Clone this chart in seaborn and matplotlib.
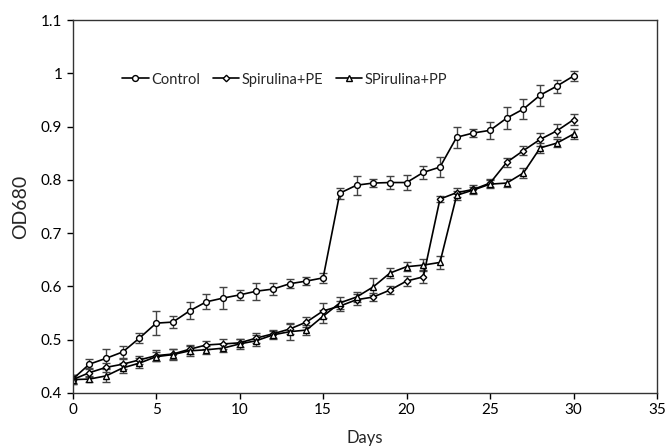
import matplotlib
matplotlib.use("Agg")
import matplotlib.pyplot as plt
import seaborn as sns
import pandas as pd

# Data
days = list(range(0, 31))

control = [0.426, 0.454, 0.465, 0.477, 0.503, 0.531, 0.533, 0.554, 0.571, 0.578,
           0.584, 0.591, 0.595, 0.605, 0.610, 0.616, 0.775, 0.790, 0.794, 0.795,
           0.795, 0.814, 0.824, 0.880, 0.888, 0.893, 0.916, 0.933, 0.959, 0.976,
           0.995]
control_err = [0.008, 0.010, 0.018, 0.012, 0.010, 0.022, 0.012, 0.016, 0.014, 0.020,
               0.010, 0.016, 0.012, 0.008, 0.008, 0.010, 0.010, 0.018, 0.008, 0.012,
               0.014, 0.012, 0.018, 0.020, 0.008, 0.016, 0.020, 0.018, 0.020, 0.012,
               0.010]

pe = [0.425, 0.438, 0.448, 0.454, 0.462, 0.470, 0.473, 0.482, 0.490, 0.492,
      0.494, 0.503, 0.511, 0.520, 0.533, 0.554, 0.563, 0.575, 0.580, 0.593,
      0.610, 0.618, 0.764, 0.776, 0.782, 0.794, 0.833, 0.855, 0.876, 0.892,
      0.913]
pe_err = [0.008, 0.008, 0.008, 0.010, 0.008, 0.010, 0.010, 0.008, 0.008, 0.010,
          0.008, 0.010, 0.008, 0.010, 0.010, 0.014, 0.010, 0.010, 0.008, 0.008,
          0.010, 0.012, 0.006, 0.008, 0.008, 0.008, 0.008, 0.008, 0.012, 0.012,
          0.010]

pp = [0.425, 0.426, 0.432, 0.447, 0.456, 0.468, 0.472, 0.479, 0.481, 0.484,
      0.492, 0.498, 0.509, 0.515, 0.518, 0.544, 0.569, 0.580, 0.599, 0.625,
      0.637, 0.640, 0.645, 0.771, 0.781, 0.792, 0.794, 0.813, 0.860, 0.869,
      0.886]
pp_err = [0.008, 0.006, 0.012, 0.010, 0.010, 0.008, 0.010, 0.010, 0.008, 0.008,
          0.010, 0.010, 0.008, 0.016, 0.010, 0.012, 0.012, 0.010, 0.016, 0.010,
          0.008, 0.012, 0.012, 0.008, 0.006, 0.008, 0.008, 0.010, 0.010, 0.008,
          0.010]

series = {
    "Control": (control, control_err, "o"),
    "Spirulina+PE": (pe, pe_err, "D"),
    "SPirulina+PP": (pp, pp_err, "^"),
}

df = pd.concat(
    [pd.DataFrame({"Days": days, "OD680": vals, "err": errs, "group": name})
     for name, (vals, errs, _) in series.items()],
    ignore_index=True
)

sns.set_style("white")
plt.rcParams["font.family"] = ["Lato", "DejaVu Sans"]

fig = plt.figure(figsize=(6.67, 4.46), dpi=100)
ax = fig.add_axes([0.109, 0.119, 0.876, 0.836])

for name, (vals, errs, mk) in series.items():
    sub = df[df["group"] == name]
    ax.errorbar(sub["Days"], sub["OD680"], yerr=sub["err"], fmt="none",
                ecolor="#444444", elinewidth=1, capsize=3, capthick=1, zorder=1)
    ms = 3.3 if mk == "D" else 4.2
    sns.lineplot(data=sub, x="Days", y="OD680", ax=ax, color="black",
                 marker=mk, markersize=ms, markerfacecolor="white",
                 markeredgecolor="black", markeredgewidth=1, linewidth=1.2,
                 label=name, zorder=2)

ax.set_xlim(0, 35)
ax.set_ylim(0.4, 1.1)
ax.set_xticks(range(0, 36, 5))
ax.set_yticks([0.4, 0.5, 0.6, 0.7, 0.8, 0.9, 1.0, 1.1])
ax.set_yticklabels(["0.4", "0.5", "0.6", "0.7", "0.8", "0.9", "1", "1.1"])
ax.tick_params(axis="both", direction="out", length=4, width=1,
               labelsize=11, colors="black", left=True, bottom=True)
for s in ax.spines.values():
    s.set_color("#333333")
    s.set_linewidth(1)

ax.set_xlabel("Days", fontsize=12)
ax.set_ylabel("OD680", fontsize=14)
ax.xaxis.set_label_coords(0.5, -0.1)
ax.yaxis.set_label_coords(-0.075, 0.5)

ax.legend(loc="upper left", bbox_to_anchor=(0.075, 0.875), ncol=3, frameon=False,
          fontsize=10.5, handlelength=1.8, handletextpad=0.15, columnspacing=0.9,
          borderaxespad=0)

fig.savefig("out.png", dpi=100)
